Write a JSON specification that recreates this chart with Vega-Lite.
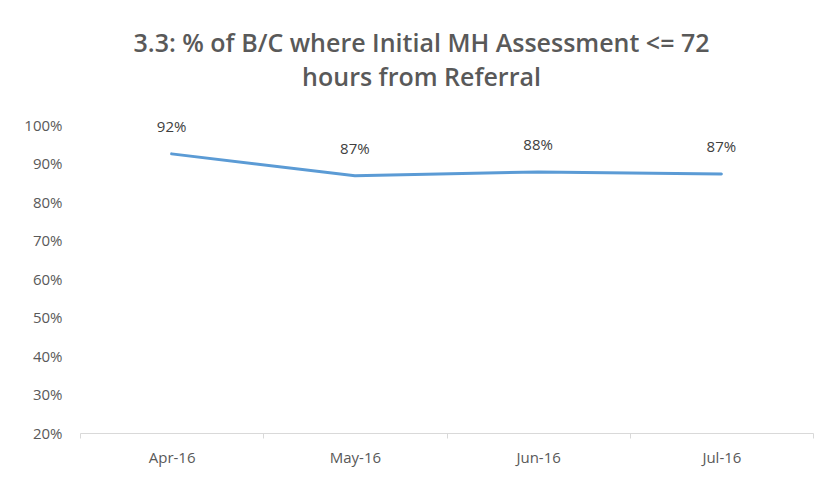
{
  "$schema": "https://vega.github.io/schema/vega-lite/v6.json",
  "autosize": {"type": "none"},
  "width": 733,
  "height": 308,
  "padding": {"left": 80, "top": 125, "right": 26, "bottom": 51},
  "background": "white",
  "title": {
    "text": ["3.3: % of B/C where Initial MH Assessment <= 72", "hours from Referral"],
    "font": "Open Sans",
    "fontSize": 25,
    "fontWeight": 600,
    "color": "#595959",
    "lineHeight": 34,
    "anchor": "middle",
    "dx": -25,
    "offset": 27
  },
  "data": {
    "values": [
      {"month": "Apr-16", "value": 0.925, "label": "92%"},
      {"month": "May-16", "value": 0.868, "label": "87%"},
      {"month": "Jun-16", "value": 0.878, "label": "88%"},
      {"month": "Jul-16", "value": 0.873, "label": "87%"}
    ]
  },
  "config": {
    "view": {"stroke": null},
    "axis": {"labelFont": "Open Sans", "labelColor": "#595959", "labelFontSize": 15, "grid": false, "domainColor": "#d9d9d9", "tickColor": "#d9d9d9"}
  },
  "encoding": {
    "x": {
      "field": "month", "type": "ordinal", "sort": null, "title": null,
      "axis": {"labelAngle": 0, "tickBand": "extent", "tickSize": 5, "labelPadding": 12, "domainWidth": 1}
    },
    "y": {
      "field": "value", "type": "quantitative", "title": null,
      "scale": {"domain": [0.2, 1.0], "nice": false, "zero": false},
      "axis": {"format": "%", "values": [0.2, 0.3, 0.4, 0.5, 0.6, 0.7, 0.8, 0.9, 1.0], "domain": false, "ticks": false, "labelPadding": 18}
    }
  },
  "layer": [
    {"mark": {"type": "line", "color": "#5b9bd5", "strokeWidth": 3, "strokeCap": "round"}},
    {"mark": {"type": "text", "font": "Open Sans", "fontSize": 15, "color": "#404040", "dy": -27}, "encoding": {"text": {"field": "label"}}}
  ]
}
